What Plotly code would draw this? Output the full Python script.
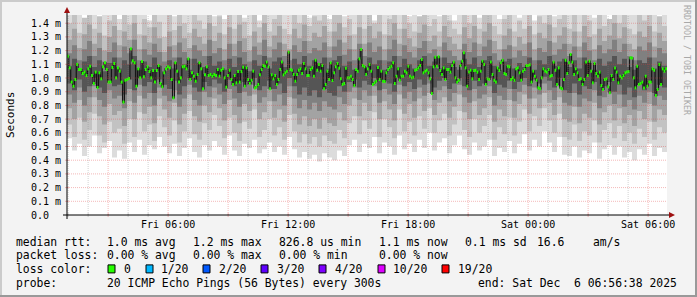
import plotly.graph_objects as go
from datetime import datetime, timedelta

# ---------------- data ----------------
start = datetime(2025, 12, 5, 0, 56, 38)
end = datetime(2025, 12, 6, 6, 56, 38)

# median RTT (ms), four consecutive 7.5 h windows
median_seg1 = [1.159,1.074,0.970,0.940,0.989,1.099,1.062,1.062,1.033,1.043,
1.018,1.067,1.086,1.018,0.960,1.043,0.931,1.038,0.994,1.082,
1.111,1.062,0.970,0.970,1.077,1.106,1.001,1.074,1.050,0.970,
0.824,0.984,0.989,0.996,1.213,1.125,1.111,0.940,1.067,1.001,
1.120,1.009,1.062,1.082,1.047,1.001,1.055,0.970,1.055,1.091,
0.960,0.936,1.038,1.067,1.082,1.074,0.989,0.855,1.111,1.050,
0.970,1.001,1.082,1.086,1.067,1.140,0.989,1.038,1.013,0.977,
1.026,1.111,1.067,0.921,1.023,1.082,1.018,1.026,1.013,1.026,
1.018]
median_seg2 = [1.062,1.013,1.057,1.067,1.001,0.933,1.018,1.057,0.989,0.953,
1.018,0.965,1.047,0.970,1.047,1.079,0.940,1.074,0.989,0.960,
0.984,1.050,0.928,0.936,0.953,1.023,1.062,1.091,1.086,1.116,
1.082,0.921,1.023,0.994,1.018,0.953,0.989,1.062,1.116,1.023,
1.038,1.050,1.189,1.062,1.057,1.026,0.977,1.026,1.057,1.067,
1.033,1.106,1.067,1.018,1.018,1.062,1.074,1.013,1.130,1.057,
1.099,1.050,1.091,0.921,0.953,1.050,0.989,1.111,0.982,1.038,
1.082,1.106,1.072,0.994,0.953,0.960,1.072,1.001,1.001,1.013,
0.989,0.945,1.062,1.050,1.140,1.208,1.091,1.082,1.026]
median_seg3 = [1.067,1.099,1.050,0.953,0.965,0.977,1.077,0.989,1.050,0.977,
0.974,1.038,1.062,1.074,1.086,1.111,0.960,1.013,1.067,0.984,
1.013,1.013,1.050,1.038,1.086,1.013,1.001,1.006,1.057,1.062,
1.074,1.091,1.135,1.038,1.050,1.057,1.038,0.994,0.887,1.082,
1.152,1.086,1.155,1.055,1.026,1.074,0.989,1.062,1.062,1.043,
1.091,1.116,1.001,0.970,0.984,1.091,1.123,1.184,1.074,0.940,
1.043,1.057,0.994,1.055,1.057,1.043,0.989,1.050,1.123,1.099,
0.953,0.994,0.989,1.116,1.026,0.984,0.970,1.074,1.055,1.111,
1.130,1.033,1.026,1.086,1.082,0.989,1.001,0.984,1.067]
median_seg4 = [1.074,1.038,0.984,1.050,1.062,1.091,1.091,1.096,0.970,1.050,
1.013,0.984,0.928,0.921,1.001,1.067,1.050,1.043,1.062,1.013,
1.018,1.116,1.057,0.953,1.074,0.928,0.921,0.989,1.130,1.033,
1.111,1.172,1.116,1.026,1.067,1.038,0.989,0.994,0.953,0.989,
1.116,1.018,1.123,1.050,0.965,1.106,1.033,1.013,1.043,0.945,
0.916,0.989,0.994,0.936,0.892,1.018,0.989,1.074,1.043,0.965,
1.013,1.001,1.018,1.038,1.043,1.047,1.147,1.147,1.001,0.928,
1.086,0.953,0.960,0.970,0.928,1.013,0.940,0.970,0.970,1.067,
1.057,0.872,0.916,1.099,0.953,1.067,1.050,1.067]

# smoke bands (ms), 15-minute columns; band k spans lo_k .. hi_k
smoke_lo1 = [0.56,0.47,0.52,0.43,0.50,0.58,0.45,0.49,0.54,0.42,
0.47,0.41,0.53,0.46,0.55,0.44,0.51,0.48,0.57,0.50,
0.45,0.52,0.43,0.49,0.56,0.46,0.42,0.51,0.47,0.54,
0.50,0.44,0.58,0.47,0.43,0.52,0.49,0.55,0.45,0.48,
0.53,0.46,0.50,0.44,0.57,0.48,0.42,0.46,0.41,0.44,
0.39,0.45,0.42,0.40,0.47,0.43,0.51,0.55,0.46,0.52,
0.49,0.57,0.45,0.53,0.50,0.44,0.58,0.48,0.52,0.46,
0.55,0.49,0.60,0.47,0.53,0.56,0.45,0.51,0.58,0.48,
0.44,0.53,0.47,0.50,0.55,0.43,0.49,0.46,0.54,0.45,
0.52,0.59,0.47,0.55,0.50,0.61,0.53,0.46,0.57,0.44,
0.43,0.50,0.42,0.47,0.45,0.53,0.41,0.48,0.51,0.44,
0.50,0.42,0.46,0.40,0.48,0.44,0.52,0.43,0.49,0.46]
smoke_lo2 = [0.66,0.57,0.71,0.55,0.62,0.74,0.58,0.53,0.68,0.60,
0.63,0.52,0.70,0.57,0.75,0.61,0.66,0.54,0.72,0.64,
0.58,0.69,0.53,0.61,0.76,0.59,0.55,0.67,0.62,0.73,
0.65,0.56,0.71,0.60,0.54,0.68,0.63,0.77,0.57,0.62,
0.70,0.58,0.64,0.55,0.73,0.61,0.53,0.59,0.52,0.57,
0.50,0.58,0.54,0.52,0.62,0.56,0.67,0.72,0.59,0.69,
0.63,0.75,0.57,0.70,0.64,0.56,0.77,0.61,0.68,0.58,
0.72,0.63,0.78,0.60,0.69,0.74,0.58,0.66,0.76,0.62,
0.57,0.70,0.60,0.65,0.73,0.55,0.64,0.59,0.71,0.58,
0.68,0.77,0.61,0.72,0.65,0.78,0.69,0.60,0.74,0.57,
0.55,0.66,0.54,0.61,0.58,0.69,0.53,0.62,0.67,0.56,
0.65,0.54,0.60,0.52,0.63,0.57,0.68,0.55,0.64,0.60]
smoke_lo3 = [0.78,0.70,0.84,0.68,0.75,0.86,0.72,0.66,0.81,0.73,
0.76,0.65,0.83,0.70,0.87,0.74,0.79,0.67,0.85,0.77,
0.71,0.82,0.66,0.74,0.88,0.72,0.68,0.80,0.75,0.85,
0.78,0.69,0.84,0.73,0.67,0.81,0.76,0.88,0.70,0.75,
0.83,0.71,0.77,0.68,0.86,0.74,0.66,0.72,0.65,0.70,
0.63,0.71,0.67,0.65,0.75,0.69,0.80,0.85,0.72,0.82,
0.76,0.87,0.70,0.83,0.77,0.69,0.88,0.74,0.81,0.71,
0.85,0.76,0.89,0.73,0.82,0.86,0.71,0.79,0.88,0.75,
0.70,0.83,0.73,0.78,0.86,0.68,0.77,0.72,0.84,0.71,
0.81,0.88,0.74,0.85,0.78,0.89,0.82,0.73,0.86,0.70,
0.68,0.79,0.67,0.74,0.71,0.82,0.66,0.75,0.80,0.69,
0.78,0.67,0.73,0.65,0.76,0.70,0.81,0.68,0.77,0.73]
smoke_lo4 = [0.88,0.82,0.93,0.80,0.86,0.94,0.84,0.79,0.91,0.85,
0.87,0.78,0.92,0.82,0.95,0.85,0.89,0.80,0.93,0.87,
0.83,0.91,0.79,0.85,0.95,0.84,0.80,0.90,0.86,0.93,
0.88,0.81,0.92,0.85,0.79,0.90,0.87,0.95,0.82,0.86,
0.92,0.83,0.88,0.80,0.94,0.85,0.78,0.84,0.77,0.82,
0.76,0.83,0.79,0.77,0.86,0.81,0.90,0.93,0.84,0.91,
0.87,0.94,0.82,0.92,0.88,0.81,0.95,0.85,0.90,0.83,
0.93,0.87,0.96,0.84,0.91,0.94,0.83,0.89,0.95,0.86,
0.82,0.92,0.85,0.88,0.94,0.80,0.87,0.84,0.92,0.83,
0.90,0.95,0.85,0.93,0.88,0.96,0.91,0.84,0.94,0.82,
0.80,0.89,0.79,0.85,0.83,0.91,0.78,0.86,0.90,0.81,
0.88,0.79,0.84,0.77,0.87,0.82,0.90,0.80,0.87,0.84]
smoke_lo5 = [0.96,0.91,0.99,0.90,0.94,1.00,0.93,0.89,0.98,0.94,
0.95,0.88,0.99,0.91,1.00,0.94,0.97,0.89,0.99,0.95,
0.92,0.98,0.88,0.94,1.00,0.93,0.90,0.97,0.94,0.99,
0.96,0.90,0.99,0.94,0.89,0.97,0.95,1.00,0.91,0.94,
0.98,0.92,0.96,0.89,1.00,0.94,0.88,0.93,0.87,0.91,
0.86,0.92,0.89,0.87,0.94,0.90,0.97,0.99,0.93,0.98,
0.95,1.00,0.91,0.98,0.96,0.90,1.00,0.94,0.97,0.92,
0.99,0.95,1.01,0.93,0.98,1.00,0.92,0.96,1.00,0.94,
0.91,0.98,0.94,0.96,1.00,0.89,0.95,0.93,0.98,0.92,
0.97,1.00,0.94,0.99,0.96,1.01,0.98,0.93,1.00,0.91,
0.89,0.96,0.88,0.94,0.92,0.97,0.87,0.94,0.97,0.90,
0.95,0.88,0.93,0.86,0.95,0.91,0.97,0.89,0.95,0.93]
smoke_hi5 = [1.09,1.14,1.06,1.12,1.16,1.08,1.13,1.05,1.11,1.15,
1.07,1.13,1.10,1.16,1.06,1.12,1.08,1.15,1.09,1.05,
1.13,1.07,1.15,1.10,1.06,1.14,1.11,1.08,1.16,1.09,
1.12,1.06,1.14,1.08,1.15,1.10,1.05,1.13,1.09,1.16,
1.07,1.12,1.15,1.08,1.06,1.14,1.10,1.16,1.09,1.13,
1.11,1.15,1.07,1.13,1.16,1.09,1.12,1.06,1.14,1.08,
1.15,1.10,1.13,1.06,1.12,1.16,1.08,1.14,1.10,1.07,
1.13,1.16,1.09,1.12,1.07,1.15,1.11,1.08,1.06,1.14,
1.10,1.15,1.08,1.13,1.16,1.09,1.06,1.12,1.14,1.07,
1.11,1.08,1.15,1.06,1.13,1.10,1.16,1.09,1.12,1.14,
1.08,1.13,1.07,1.15,1.11,1.06,1.14,1.09,1.12,1.16,
1.10,1.14,1.08,1.06,1.13,1.11,1.15,1.07,1.12,1.09]
smoke_hi4 = [1.18,1.24,1.13,1.21,1.27,1.16,1.22,1.12,1.19,1.26,
1.15,1.23,1.18,1.28,1.13,1.21,1.17,1.25,1.19,1.12,
1.23,1.15,1.26,1.19,1.14,1.24,1.20,1.16,1.28,1.18,
1.22,1.13,1.25,1.16,1.27,1.19,1.12,1.23,1.17,1.28,
1.15,1.21,1.26,1.16,1.13,1.24,1.19,1.27,1.18,1.22,
1.20,1.26,1.15,1.23,1.28,1.17,1.21,1.13,1.25,1.16,
1.26,1.19,1.23,1.13,1.21,1.28,1.16,1.24,1.19,1.15,
1.22,1.27,1.18,1.21,1.15,1.26,1.20,1.16,1.13,1.25,
1.19,1.26,1.16,1.23,1.28,1.18,1.13,1.21,1.24,1.15,
1.20,1.16,1.26,1.13,1.22,1.19,1.27,1.17,1.21,1.25,
1.16,1.23,1.15,1.26,1.20,1.13,1.24,1.18,1.21,1.28,
1.19,1.25,1.16,1.13,1.23,1.20,1.26,1.15,1.22,1.18]
smoke_hi3 = [1.28,1.36,1.22,1.32,1.39,1.25,1.33,1.20,1.30,1.38,
1.24,1.34,1.28,1.40,1.21,1.31,1.26,1.37,1.29,1.19,
1.34,1.24,1.38,1.29,1.22,1.36,1.30,1.25,1.40,1.27,
1.33,1.21,1.37,1.25,1.39,1.29,1.20,1.34,1.26,1.40,
1.23,1.31,1.38,1.25,1.21,1.36,1.29,1.39,1.27,1.33,
1.30,1.38,1.23,1.34,1.40,1.26,1.31,1.21,1.37,1.25,
1.38,1.29,1.34,1.21,1.31,1.40,1.25,1.36,1.29,1.23,
1.33,1.39,1.27,1.31,1.23,1.38,1.30,1.25,1.21,1.37,
1.29,1.38,1.25,1.34,1.40,1.27,1.21,1.31,1.36,1.23,
1.30,1.25,1.38,1.21,1.33,1.29,1.39,1.26,1.31,1.37,
1.25,1.34,1.23,1.38,1.30,1.21,1.36,1.27,1.31,1.40,
1.29,1.37,1.25,1.21,1.34,1.30,1.38,1.23,1.33,1.27]
smoke_hi2 = [1.40,1.47,1.33,1.44,1.50,1.36,1.45,1.31,1.42,1.49,
1.35,1.46,1.39,1.51,1.32,1.43,1.37,1.48,1.41,1.30,
1.46,1.35,1.49,1.40,1.33,1.47,1.42,1.36,1.51,1.38,
1.45,1.32,1.48,1.36,1.50,1.41,1.31,1.46,1.37,1.51,
1.34,1.43,1.49,1.36,1.32,1.47,1.40,1.50,1.38,1.45,
1.42,1.49,1.34,1.46,1.51,1.37,1.43,1.32,1.48,1.36,
1.49,1.40,1.46,1.32,1.43,1.51,1.36,1.47,1.40,1.34,
1.45,1.50,1.38,1.43,1.34,1.49,1.42,1.36,1.32,1.48,
1.40,1.49,1.36,1.46,1.51,1.38,1.32,1.43,1.47,1.34,
1.42,1.36,1.49,1.32,1.45,1.40,1.50,1.37,1.43,1.48,
1.36,1.46,1.34,1.49,1.42,1.32,1.47,1.38,1.43,1.51,
1.40,1.48,1.36,1.32,1.46,1.42,1.49,1.34,1.45,1.38]
smoke_hi1 = [1.50,1.44,1.48,1.43,1.50,1.46,1.42,1.49,1.50,1.45,
1.43,1.50,1.47,1.44,1.50,1.48,1.42,1.50,1.46,1.49,
1.50,1.45,1.43,1.50,1.48,1.44,1.50,1.47,1.50,1.45,
1.49,1.43,1.50,1.46,1.50,1.44,1.48,1.50,1.42,1.50,
1.47,1.50,1.45,1.49,1.50,1.43,1.50,1.48,1.44,1.50,
1.46,1.50,1.43,1.50,1.47,1.45,1.50,1.49,1.44,1.50,
1.48,1.42,1.50,1.46,1.50,1.44,1.49,1.50,1.45,1.50,
1.43,1.50,1.47,1.50,1.45,1.49,1.50,1.42,1.48,1.50,
1.46,1.50,1.44,1.49,1.50,1.47,1.43,1.50,1.46,1.50,
1.44,1.50,1.48,1.42,1.50,1.46,1.50,1.45,1.49,1.50,
1.47,1.43,1.50,1.48,1.50,1.44,1.50,1.46,1.42,1.50,
1.49,1.45,1.50,1.47,1.43,1.50,1.46,1.50,1.44,1.48]
smoke_grays = ["#dcdcdc", "#c2c2c2", "#a3a3a3", "#808080", "#555555"]

loss_labels = ["0", "1/20", "2/20", "3/20", "4/20", "10/20", "19/20"]
loss_colors = ["#26ff00", "#00b8ff", "#0059ff", "#5e00ff", "#7e00ff", "#dd00ff", "#ff0000"]

ytick_vals = [0.0, 0.1, 0.2, 0.3, 0.4, 0.5, 0.6, 0.7, 0.8, 0.9, 1.0, 1.1, 1.2, 1.3, 1.4]
ytick_text = ["0.0\u00a0\u00a0", "0.1 m", "0.2 m", "0.3 m", "0.4 m", "0.5 m", "0.6 m", "0.7 m",
              "0.8 m", "0.9 m", "1.0 m", "1.1 m", "1.2 m", "1.3 m", "1.4 m"]
xtick_vals = ["2025-12-05 06:00", "2025-12-05 12:00", "2025-12-05 18:00",
              "2025-12-06 00:00", "2025-12-06 06:00"]
xtick_text = ["Fri 06:00", "Fri 12:00", "Fri 18:00", "Sat 00:00", "Sat 06:00"]

legend_rows = [
    [("median rtt:", 16), ("1.0 ms avg", 107), ("1.2 ms max", 193), ("826.8 us min", 279),
     ("1.1 ms now", 379), ("0.1 ms sd", 465), ("16.6", 537), ("am/s", 593)],
    [("packet loss:", 16), ("0.00 % avg", 107), ("0.00 % max", 193), ("0.00 % min", 279),
     ("0.00 % now", 379)],
    [("loss color:", 16)],
    [("probe:", 16), ("20 ICMP Echo Pings (56 Bytes) every 300s", 107),
     ("end: Sat Dec\u00a0\u00a06 06:56:38 2025", 478)],
]
legend_y = [241.5, 255.2, 268.9, 282.6]
loss_box_x = [108, 146, 203, 261, 319, 378, 442]
loss_text_x = [123, 160, 218, 276, 334, 392, 457]

# ---------------- layout constants ----------------
W, H = 697, 297
L, R, T, B = 67, 30, 15, 82
PW, PH = W - L - R, H - T - B
YMAX = 1.46
FONT = "DejaVu Sans Mono"


def px(x):
    return (x - L) / PW


def py(y):
    return (T + PH - y) / PH


fig = go.Figure()

# smoke
n_s = len(smoke_lo1)
ds = (end - start) / n_s
sx = [start + i * ds for i in range(n_s)] + [end]
los = [smoke_lo1, smoke_lo2, smoke_lo3, smoke_lo4, smoke_lo5]
his = [smoke_hi1, smoke_hi2, smoke_hi3, smoke_hi4, smoke_hi5]
for lo, hi, col in zip(los, his, smoke_grays):
    fig.add_trace(go.Scatter(x=sx, y=lo + [lo[-1]], mode="lines",
                             line=dict(width=0, shape="hv"), hoverinfo="skip", showlegend=False))
    fig.add_trace(go.Scatter(x=sx, y=hi + [hi[-1]], mode="lines",
                             line=dict(width=0, shape="hv"), fill="tonexty", fillcolor=col,
                             hoverinfo="skip", showlegend=False))

# median
segs = [median_seg1, median_seg2, median_seg3, median_seg4]
seg_len = (end - start) / len(segs)
m_edges, m_vals = [], []
g_x, g_y = [], []
for k, seg in enumerate(segs):
    s0 = start + k * seg_len
    d = seg_len / len(seg)
    for j, v in enumerate(seg):
        m_edges.append(s0 + j * d)
        m_vals.append(v)
        c = s0 + (j + 0.5) * d
        g_x += [c - d * 0.52, c + d * 0.52, None]
        g_y += [v, v, None]

fig.add_trace(go.Scatter(x=m_edges + [end], y=m_vals + [m_vals[-1]], mode="lines",
                         line=dict(color="#151515", width=1.2, shape="hv"),
                         hoverinfo="skip", showlegend=False))
fig.add_trace(go.Scatter(x=g_x, y=g_y, mode="lines",
                         line=dict(color=loss_colors[0], width=3),
                         hoverinfo="skip", showlegend=False))

shapes = []
MAJ = "rgba(225,60,60,0.36)"
MIN = "rgba(130,130,130,0.36)"
# horizontal grid
for v in ytick_vals[1:]:
    shapes.append(dict(type="line", xref="paper", yref="y", x0=0, x1=1, y0=v, y1=v,
                       line=dict(color=MAJ, width=1, dash="1px,1px"), layer="above"))
    shapes.append(dict(type="line", xref="paper", yref="y", x0=px(65), x1=px(69), y0=v, y1=v,
                       line=dict(color=MAJ, width=1), layer="above"))
# vertical grid every hour, major every 3 h
t = datetime(2025, 12, 5, 1, 0, 0)
while t < end:
    col = MAJ if t.hour % 3 == 0 else MIN
    shapes.append(dict(type="line", xref="x", yref="paper", x0=t, x1=t, y0=0, y1=1,
                       line=dict(color=col, width=1, dash="1px,1px"), layer="above"))
    shapes.append(dict(type="line", xref="x", yref="paper", x0=t, x1=t, y0=py(217), y1=py(213),
                       line=dict(color=col, width=1), layer="above"))
    t += timedelta(hours=1)

# axes lines and arrows
shapes.append(dict(type="line", xref="paper", yref="paper", x0=px(63), x1=px(669), y0=py(215), y1=py(215),
                   line=dict(color="#000000", width=1), layer="above"))
shapes.append(dict(type="line", xref="paper", yref="paper", x0=px(67), x1=px(67), y0=py(219), y1=py(11),
                   line=dict(color="#000000", width=1), layer="above"))
shapes.append(dict(type="path", xref="paper", yref="paper",
                   path=f"M {px(67)} {py(7)} L {px(64)} {py(13)} L {px(70)} {py(13)} Z",
                   fillcolor="#9e1010", line=dict(width=0), layer="above"))
shapes.append(dict(type="path", xref="paper", yref="paper",
                   path=f"M {px(675)} {py(215)} L {px(669)} {py(212)} L {px(669)} {py(218)} Z",
                   fillcolor="#9e1010", line=dict(width=0), layer="above"))

# outer 3D border
shapes.append(dict(type="rect", xref="paper", yref="paper", x0=px(0), x1=px(W), y0=py(0), y1=py(2),
                   fillcolor="#cbcbcb", line=dict(width=0)))
shapes.append(dict(type="rect", xref="paper", yref="paper", x0=px(0), x1=px(2), y0=py(0), y1=py(H),
                   fillcolor="#cbcbcb", line=dict(width=0)))
shapes.append(dict(type="rect", xref="paper", yref="paper", x0=px(0), x1=px(W), y0=py(H - 2), y1=py(H),
                   fillcolor="#999999", line=dict(width=0)))
shapes.append(dict(type="rect", xref="paper", yref="paper", x0=px(W - 2), x1=px(W), y0=py(0), y1=py(H),
                   fillcolor="#999999", line=dict(width=0)))

# loss colour boxes
for bx, c in zip(loss_box_x, loss_colors):
    shapes.append(dict(type="rect", xref="paper", yref="paper", x0=px(bx), x1=px(bx + 7),
                       y0=py(legend_y[2] + 4), y1=py(legend_y[2] - 4),
                       fillcolor=c, line=dict(color="#000000", width=1)))

annotations = []
for row, yy in zip(legend_rows, legend_y):
    for txt, xx in row:
        annotations.append(dict(text=txt.replace(" ", "\u00a0"), xref="paper", yref="paper",
                                x=px(xx), y=py(yy), xanchor="left", yanchor="middle",
                                showarrow=False, borderpad=0, borderwidth=0,
                                font=dict(family=FONT, size=11.4, color="#000000")))
for lx, lab in zip(loss_text_x, loss_labels):
    annotations.append(dict(text=lab, xref="paper", yref="paper", x=px(lx), y=py(legend_y[2]),
                            xanchor="left", yanchor="middle", showarrow=False, borderpad=0,
                            font=dict(family=FONT, size=11.4, color="#000000")))
annotations.append(dict(text="Seconds", xref="paper", yref="paper", x=px(10), y=py(115),
                        xanchor="center", yanchor="middle", textangle=-90, showarrow=False,
                        font=dict(family=FONT, size=11, color="#000000")))
annotations.append(dict(text="RRDTOOL / TOBI OETIKER".replace(" ", "\u00a0"), xref="paper", yref="paper",
                        x=px(687), y=py(60), xanchor="center", yanchor="middle", textangle=90,
                        showarrow=False, font=dict(family=FONT, size=8.3, color="#a8a8a8")))

fig.update_layout(
    width=W, height=H, margin=dict(l=L, r=R, t=T, b=B, pad=0),
    paper_bgcolor="#f3f3f3", plot_bgcolor="#ffffff",
    showlegend=False,
    shapes=shapes, annotations=annotations,
    font=dict(family=FONT, size=10, color="#000000"),
    xaxis=dict(type="date", range=[start, end], tickvals=xtick_vals, ticktext=xtick_text,
               showgrid=False, zeroline=False, showline=False, ticks="",
               tickfont=dict(family=FONT, size=10, color="#000000"), ticklabelstandoff=2),
    yaxis=dict(range=[0, YMAX], tickvals=ytick_vals, ticktext=ytick_text,
               showgrid=False, zeroline=False, showline=False, ticks="",
               tickfont=dict(family=FONT, size=10, color="#000000"), ticklabelstandoff=5),
)

fig.write_html("out.html")
